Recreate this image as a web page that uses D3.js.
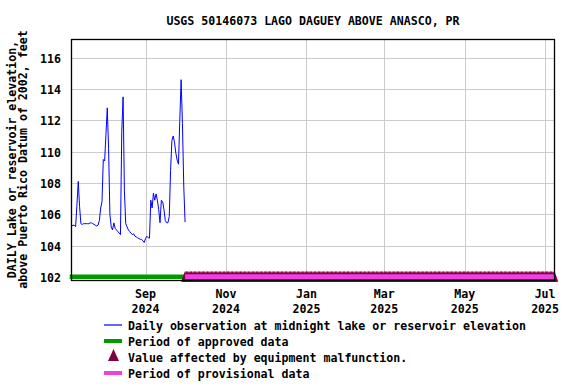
<!DOCTYPE html>
<html><head><meta charset="utf-8">
<script src="https://cdn.jsdelivr.net/npm/d3@7"></script>
<style>
html,body{margin:0;padding:0;background:#fff;}
text{font-family:"DejaVu Sans Mono",monospace;font-weight:bold;font-size:11.6px;fill:#000;}
</style></head>
<body>
<svg id="chart" width="576" height="384"></svg>
<script>
const title = "USGS 50146073 LAGO DAGUEY ABOVE ANASCO, PR";
const yLabel1 = "DAILY Lake or reservoir elevation,";
const yLabel2 = "above Puerto Rico Datum of 2002, feet";
const startDate = "2024-07-07";
// daily elevation (ft), from 2024-07-07 to 2024-10-01
const values = [
 105.25,105.3,105.3,105.2,106.6,108.1,106.5,105.4,105.35,105.4,
 105.4,105.4,105.4,105.4,105.45,105.45,105.4,105.35,105.3,105.25,
 105.3,105.6,106.4,106.8,109.5,109.4,111.1,112.8,110.2,106.0,
 105.2,105.0,105.45,105.1,105.0,104.9,104.8,104.7,111.3,113.5,
 107.5,105.4,105.2,105.0,104.9,104.8,104.7,104.75,104.6,104.55,
 104.5,104.45,104.4,104.4,104.3,104.2,104.45,104.6,104.5,104.47,
 106.9,106.4,107.35,106.9,107.3,106.9,106.3,105.46,106.9,106.8,
 106.3,105.6,105.46,105.46,105.85,108.8,110.7,111.0,110.6,109.9,
 109.46,109.2,112.0,114.6,111.8,107.8,105.5
];
const yTicks = [102,104,106,108,110,112,114,116];
const xTicks = ["2024-09-01","2024-11-01","2025-01-01","2025-03-01","2025-05-01","2025-07-01"];
const xTickMonths = ["Sep","Nov","Jan","Mar","May","Jul"];
const xTickYears = ["2024","2024","2025","2025","2025","2025"];
const approvedPeriod = ["2024-07-05T12:00","2024-10-01"];
const provisionalPeriod = ["2024-10-01","2025-07-08"];
const malfunctionPeriod = ["2024-10-01","2025-07-08"];
const legendLabels = [
 "Daily observation at midnight lake or reservoir elevation",
 "Period of approved data",
 "Value affected by equipment malfunction.",
 "Period of provisional data"
];
const colors = {line:"#0000ff", approved:"#009900", malf:"#800040", prov:"#f040e0", grid:"#cccccc"};

const svg = d3.select("#chart");
const L=71, R=555, T=39, B=280;
const pd = d3.timeParse("%Y-%m-%d");
const pdt = s => s.length>10 ? d3.isoParse(s) : pd(s);
const x = d3.scaleTime().domain([d3.isoParse("2024-07-06T12:00"), d3.isoParse("2025-07-08T12:00")]).range([L,R]);
const y = d3.scaleLinear().domain([101.8,117.2]).range([B,T]);

const start = pd(startDate);
const data = values.map((v,i)=>({d:d3.timeDay.offset(start,i), v}));

// gridlines
svg.append("g").selectAll("line").data(yTicks).join("line")
 .attr("x1",L).attr("x2",R).attr("y1",d=>Math.round(y(d))+0.5).attr("y2",d=>Math.round(y(d))+0.5)
 .attr("stroke",colors.grid).attr("stroke-width",1);
svg.append("g").selectAll("line").data(xTicks).join("line")
 .attr("y1",T).attr("y2",B).attr("x1",d=>Math.round(x(pd(d)))+0.5).attr("x2",d=>Math.round(x(pd(d)))+0.5)
 .attr("stroke",colors.grid).attr("stroke-width",1);

// data line
svg.append("path").datum(data)
 .attr("d", d3.line().x(d=>x(d.d)).y(d=>y(d.v)))
 .attr("fill","none").attr("stroke",colors.line).attr("stroke-width",1);

// approved bar
svg.append("line").attr("x1",x(pdt(approvedPeriod[0]))).attr("x2",x(pdt(approvedPeriod[1])))
 .attr("y1",y(102)).attr("y2",y(102)).attr("stroke",colors.approved).attr("stroke-width",4.5);

// malfunction triangles
const malDays = d3.timeDay.range(pd(malfunctionPeriod[0]), d3.timeDay.offset(pd(malfunctionPeriod[1]),1));
svg.append("g").selectAll("path").data(malDays).join("path")
 .attr("d", d=>{const cx=x(d), cy=y(102); return `M${cx},${cy-6}L${cx+4},${cy+5}L${cx-4},${cy+5}Z`;})
 .attr("fill",colors.malf);

// provisional bar
svg.append("line").attr("x1",x(pd(provisionalPeriod[0]))).attr("x2",Math.min(R,x(pd(provisionalPeriod[1]))))
 .attr("y1",y(102)).attr("y2",y(102)).attr("stroke",colors.prov).attr("stroke-width",5);

// frame
svg.append("rect").attr("x",L+0.5).attr("y",T+0.5).attr("width",R-L-1).attr("height",B-T)
 .attr("fill","none").attr("stroke","#000").attr("stroke-width",1.3);

// y tick labels
svg.append("g").selectAll("text").data(yTicks).join("text")
 .attr("x",61).attr("y",d=>y(d)+5).attr("text-anchor","end").text(d=>d);

// x tick labels
const xg = svg.append("g").selectAll("g").data(xTicks).join("g");
xg.append("text").attr("x",d=>x(pd(d))).attr("y",298).attr("text-anchor","middle").text((d,i)=>xTickMonths[i]);
xg.append("text").attr("x",d=>x(pd(d))).attr("y",313).attr("text-anchor","middle").text((d,i)=>xTickYears[i]);

// title
svg.append("text").attr("x",(L+R)/2).attr("y",25).attr("text-anchor","middle").text(title);

// y labels
svg.append("text").attr("transform",`translate(16,${(T+B)/2}) rotate(-90)`).attr("text-anchor","middle").text(yLabel1);
svg.append("text").attr("transform",`translate(27,${(T+B)/2}) rotate(-90)`).attr("text-anchor","middle").text(yLabel2);

// legend
const lg = svg.append("g");
const ly = [325,341,357,373];
lg.append("line").attr("x1",104).attr("x2",122).attr("y1",ly[0]).attr("y2",ly[0]).attr("stroke",colors.line).attr("stroke-width",1.2);
lg.append("line").attr("x1",104).attr("x2",122).attr("y1",ly[1]).attr("y2",ly[1]).attr("stroke",colors.approved).attr("stroke-width",4);
lg.append("path").attr("d",`M113.5,${ly[2]-8}L119,${ly[2]+4}L108,${ly[2]+4}Z`).attr("fill",colors.malf);
lg.append("line").attr("x1",104).attr("x2",122).attr("y1",ly[3]).attr("y2",ly[3]).attr("stroke",colors.prov).attr("stroke-width",4);
lg.selectAll("text").data(legendLabels).join("text")
 .attr("x",128).attr("y",(d,i)=>ly[i]+5).text(d=>d);
</script>
</body></html>
